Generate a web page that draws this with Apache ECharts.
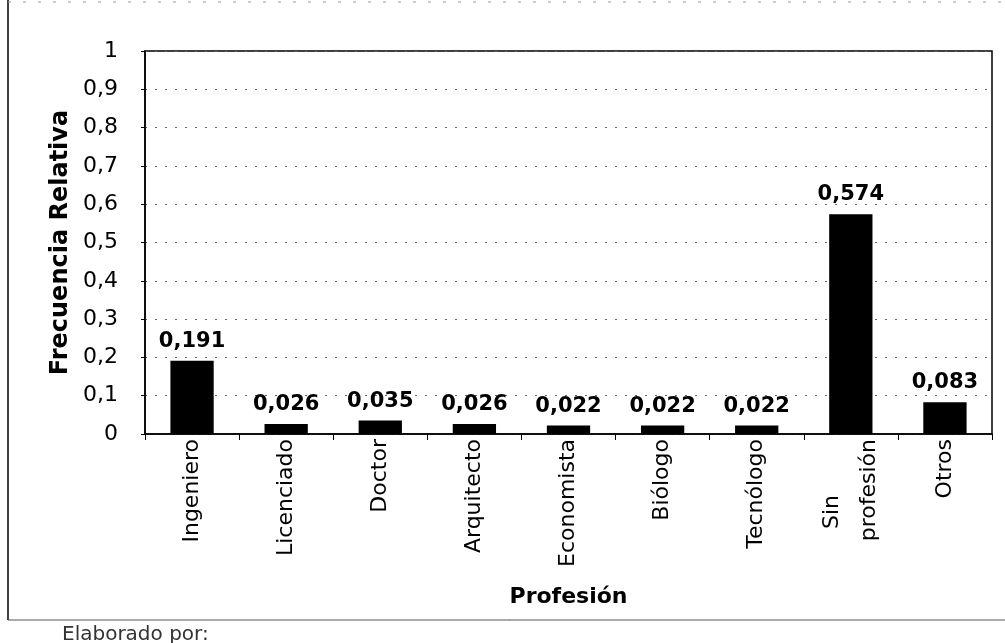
<!DOCTYPE html>
<html>
<head>
    <meta http-equiv="Content-Type" content="text/html; charset=utf-8" />
    <title>Frecuencia relativa por profesión</title>
    <style>
        html, body { margin: 0; padding: 0; background: #fff; }
        #main { width: 1005px; height: 643px; }
    </style>
</head>
<body>
    <div id="main"></div>
    <script src="https://cdn.jsdelivr.net/npm/echarts@6/dist/echarts.min.js"></script>
    <script type="text/javascript">
        var categories = ['Ingeniero', 'Licenciado', 'Doctor', 'Arquitecto', 'Economista',
            'Biólogo', 'Tecnólogo', 'Sin\nprofesión', 'Otros'];
        var values = [0.191, 0.026, 0.035, 0.026, 0.022, 0.022, 0.022, 0.574, 0.083];

        var font = '"DejaVu Sans", sans-serif';
        var fmt = function (v) { return String(v).replace('.', ','); };

        var myChart = echarts.init(document.getElementById('main'));
        var option = {
            animation: false,
            backgroundColor: '#fff',
            grid: { left: 145, right: 13, top: 51, bottom: 209, show: true, borderColor: '#000', borderWidth: 1.5 },
            graphic: [
                { type: 'line', shape: { x1: 8, y1: 0, x2: 8, y2: 620 }, style: { stroke: '#000', lineWidth: 1.5 } },
                { type: 'line', shape: { x1: 8, y1: 620, x2: 1005, y2: 620 }, style: { stroke: '#555', lineWidth: 1 } },
                { type: 'line', shape: { x1: 8, y1: 2, x2: 1005, y2: 2 }, style: { stroke: '#999', lineWidth: 1, lineDash: [3, 12] } },
                { type: 'text', left: 62, top: 625, style: { text: 'Elaborado por:', font: '20px ' + font, fill: '#333' } }
            ],
            xAxis: {
                type: 'category',
                data: categories,
                name: 'Profesión',
                nameLocation: 'middle',
                nameGap: 152,
                nameMoveOverlap: false,
                nameTextStyle: { fontFamily: font, fontSize: 22, fontWeight: 'bold', color: '#000' },
                axisLine: { lineStyle: { color: '#000', width: 1.5 } },
                axisTick: { show: true, length: 6, lineStyle: { color: '#000' } },
                axisLabel: {
                    rotate: 90, interval: 0, margin: 5,
                    fontFamily: font, fontSize: 22, color: '#000', lineHeight: 37,
                    formatter: function (v) { return v.replace('Sin\n', 'Sin        \n'); }
                }
            },
            yAxis: {
                type: 'value',
                min: 0, max: 1, interval: 0.1,
                name: 'Frecuencia Relativa',
                nameLocation: 'middle',
                nameGap: 72,
                nameMoveOverlap: false,
                nameTextStyle: { fontFamily: font, fontSize: 24, fontWeight: 'bold', color: '#000' },
                axisLine: { show: true, lineStyle: { color: '#000', width: 1.5 } },
                axisTick: { show: true, length: 4, lineStyle: { color: '#000' } },
                axisLabel: {
                    margin: 27, fontFamily: font, fontSize: 22, color: '#000',
                    formatter: function (v) { return fmt(Math.round(v * 10) / 10); }
                },
                splitLine: { show: true, lineStyle: { color: '#666', type: [2, 8], width: 1 } }
            },
            series: [{
                type: 'bar',
                data: values,
                barWidth: '46%',
                itemStyle: { color: '#000' },
                label: {
                    show: true, position: 'top', distance: 9,
                    fontFamily: font, fontSize: 21, fontWeight: 'bold', color: '#000',
                    formatter: function (p) { return fmt(p.value); }
                }
            }]
        };
        myChart.setOption(option);
    </script>
</body>
</html>
